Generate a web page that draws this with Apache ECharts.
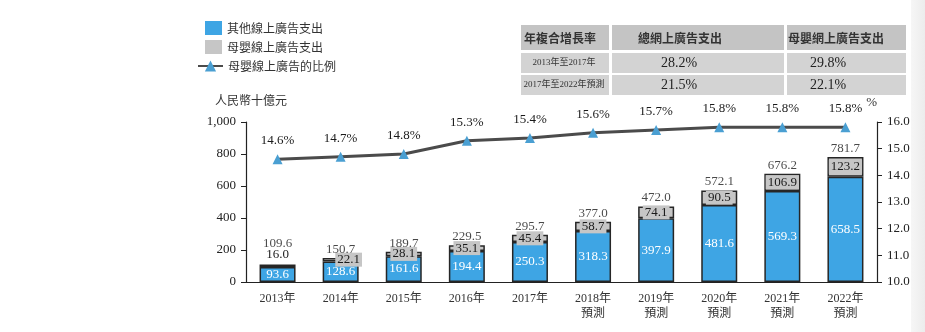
<!DOCTYPE html>
<html>
<head>
<meta charset="utf-8">
<script src="https://cdn.jsdelivr.net/npm/echarts@6/dist/echarts.min.js"></script>
<style>
  html, body { margin: 0; padding: 0; background: #fff; }
  #chart { width: 925px; height: 332px; }
</style>
</head>
<body>
<div id="chart"></div>
<script>
// Online advertising spend in China, RMB billions, 2013–2022 (2018 onward forecast)
const years = ['2013年', '2014年', '2015年', '2016年', '2017年',
  '2018年\n預測', '2019年\n預測', '2020年\n預測', '2021年\n預測', '2022年\n預測'];
const otherSpend = [93.6, 128.6, 161.6, 194.4, 250.3, 318.3, 397.9, 481.6, 569.3, 658.5];
const babySpend = [16.0, 22.1, 28.1, 35.1, 45.4, 58.7, 74.1, 90.5, 106.9, 123.2];
const totalSpend = [109.6, 150.7, 189.7, 229.5, 295.7, 377.0, 472.0, 572.1, 676.2, 781.7];
const babyShare = [14.6, 14.7, 14.8, 15.3, 15.4, 15.6, 15.7, 15.8, 15.8, 15.8];
const leftTicks = [0, 1000, 200];
const rightTicks = [10, 16, 1];

// CAGR table
const tableHeader = ['年複合增長率', '總網上廣告支出', '母嬰網上廣告支出'];
const tablePeriods = ['2013年至2017年', '2017年至2022年預測'];
const cagrTotal = ['28.2%', '21.5%'];
const cagrBaby = ['29.8%', '22.1%'];

const SERIF = '"Liberation Serif", "DejaVu Serif", "Noto Sans CJK TC", serif';
const CJK = '"Noto Sans CJK TC", "Noto Sans CJK SC", sans-serif';
const MIXED = '"Liberation Serif", "Noto Sans CJK TC", serif';

const BLUE = '#3ea5e4';
const GRAY = '#c6c6c6';
const EDGE = '#262626';

const chart = echarts.init(document.getElementById('chart'));

// table graphics
const tableCols = [[521, 609], [612, 784], [787, 906]];
const tableRows = [[25, 50], [53, 73], [75, 95]];
const tableElems = [];
tableRows.forEach((r, ri) => {
  tableCols.forEach((c, ci) => {
    tableElems.push({
      type: 'rect',
      shape: { x: c[0], y: r[0], width: c[1] - c[0], height: r[1] - r[0] },
      style: { fill: ri === 0 ? '#c4c4c4' : '#d3d3d3' },
      silent: true
    });
  });
});
const colCenters = [560, 680, 836];
tableHeader.forEach((t, i) => {
  tableElems.push({
    type: 'text', x: colCenters[i], y: 38,
    style: { text: t, font: 'bold 12px ' + CJK, fill: '#333', align: 'center', verticalAlign: 'middle' },
    silent: true
  });
});
tablePeriods.forEach((p, i) => {
  const y = (tableRows[i + 1][0] + tableRows[i + 1][1]) / 2;
  tableElems.push({
    type: 'text', x: 564, y: y,
    style: { text: p, font: '9px ' + MIXED, fill: '#333', align: 'center', verticalAlign: 'middle' },
    silent: true
  });
  tableElems.push({
    type: 'text', x: 679, y: y,
    style: { text: cagrTotal[i], font: '14px ' + SERIF, fill: '#222', align: 'center', verticalAlign: 'middle' },
    silent: true
  });
  tableElems.push({
    type: 'text', x: 828, y: y,
    style: { text: cagrBaby[i], font: '14px ' + SERIF, fill: '#222', align: 'center', verticalAlign: 'middle' },
    silent: true
  });
});

const option = {
  backgroundColor: '#ffffff',
  animation: false,
  grid: { left: 246, right: 48, top: 122, bottom: 50, containLabel: false },
  legend: [
    {
      data: ['其他線上廣告支出', '母嬰線上廣告支出'],
      orient: 'vertical', left: 205, top: 21, padding: 0,
      icon: 'rect',
      itemWidth: 17, itemHeight: 14, itemGap: 5,
      itemStyle: { borderWidth: 0 },
      textStyle: { fontFamily: CJK, fontSize: 12, color: '#333' },
      selectedMode: false
    },
    {
      data: ['母嬰線上廣告的比例'],
      orient: 'vertical', left: 197, top: 60, padding: 0,
      itemWidth: 25, itemHeight: 14,
      textStyle: { fontFamily: CJK, fontSize: 12, color: '#333' },
      selectedMode: false
    }
  ],
  xAxis: {
    type: 'category',
    data: years,
    axisLine: { lineStyle: { color: '#222', width: 1.2 } },
    axisTick: { show: false },
    axisLabel: { fontFamily: MIXED, fontSize: 12, color: '#333', margin: 9, lineHeight: 15, interval: 0 }
  },
  yAxis: [
    {
      type: 'value',
      min: leftTicks[0], max: leftTicks[1], interval: leftTicks[2],
      axisLine: { show: true, lineStyle: { color: '#222', width: 1.2 } },
      axisTick: { show: true, inside: false, length: 5, lineStyle: { color: '#222' } },
      splitLine: { show: false },
      axisLabel: {
        fontFamily: SERIF, fontSize: 13, color: '#222', margin: 10,
        formatter: v => v.toLocaleString('en-US')
      }
    },
    {
      type: 'value',
      min: rightTicks[0], max: rightTicks[1], interval: rightTicks[2],
      position: 'right',
      name: '%',
      nameLocation: 'end',
      nameGap: 13,
      nameTextStyle: { fontFamily: SERIF, fontSize: 13, color: '#333', align: 'right', padding: [0, 0, 0, 0] },
      axisLine: { show: true, lineStyle: { color: '#222', width: 1.2 } },
      axisTick: { show: true, inside: false, length: 5, lineStyle: { color: '#222' } },
      splitLine: { show: false },
      axisLabel: {
        fontFamily: SERIF, fontSize: 13, color: '#222', margin: 10,
        formatter: v => v.toFixed(1)
      }
    }
  ],
  graphic: [
    {
      type: 'text', left: 215, top: 94,
      style: { text: '人民幣十億元', font: '12px ' + CJK, fill: '#333' },
      silent: true
    },
    {
      type: 'rect',
      shape: { x: 911, y: 0, width: 14, height: 332 },
      style: {
        fill: new echarts.graphic.LinearGradient(0, 0, 1, 0, [
          { offset: 0, color: '#f6f6f6' },
          { offset: 1, color: '#ececec' }
        ])
      },
      silent: true,
      z: -10
    }
  ].concat(tableElems),
  series: [
    {
      name: '其他線上廣告支出',
      type: 'bar',
      stack: 'spend',
      barWidth: 36,
      data: otherSpend,
      itemStyle: { color: BLUE, borderColor: EDGE, borderWidth: 1.5 },
      label: {
        show: true, position: 'inside',
        fontFamily: SERIF, fontSize: 13, color: '#ffffff',
        formatter: p => p.value.toFixed(1)
      },
      z: 2
    },
    {
      name: '母嬰線上廣告支出',
      type: 'bar',
      stack: 'spend',
      barWidth: 36,
      data: babySpend.map((v, i) => {
        const item = { value: v };
        if (i === 0) {
          item.label = { position: 'top', distance: 3, backgroundColor: 'transparent', padding: 0 };
        } else if (i === 1) {
          item.label = { offset: [8, 0] };
        }
        return item;
      }),
      itemStyle: { color: GRAY, borderColor: EDGE, borderWidth: 1.5 },
      label: {
        show: true, position: 'inside',
        fontFamily: SERIF, fontSize: 13, color: '#1a1a1a',
        backgroundColor: GRAY, padding: [1, 2, 0, 2],
        formatter: p => p.value.toFixed(1)
      },
      z: 2
    },
    {
      name: '合計',
      type: 'scatter',
      data: totalSpend.map((v, i) => i === 0
        ? { value: v, label: { distance: 14 } }
        : { value: v }),
      symbolSize: 0,
      silent: true,
      label: {
        show: true, position: 'top', distance: 2,
        fontFamily: SERIF, fontSize: 13, color: '#1a1a1a',
        formatter: p => p.value.toFixed(1)
      },
      z: 3
    },
    {
      name: '母嬰線上廣告的比例',
      type: 'line',
      yAxisIndex: 1,
      data: babyShare,
      symbol: 'triangle',
      symbolSize: 10,
      lineStyle: { color: '#4b4b4b', width: 3 },
      itemStyle: { color: '#4a9fd2', borderWidth: 0 },
      label: {
        show: true, position: 'top', distance: 7,
        fontFamily: SERIF, fontSize: 13, color: '#1a1a1a',
        formatter: p => p.value.toFixed(1) + '%'
      },
      z: 4
    }
  ]
};

chart.setOption(option);
</script>
</body>
</html>
